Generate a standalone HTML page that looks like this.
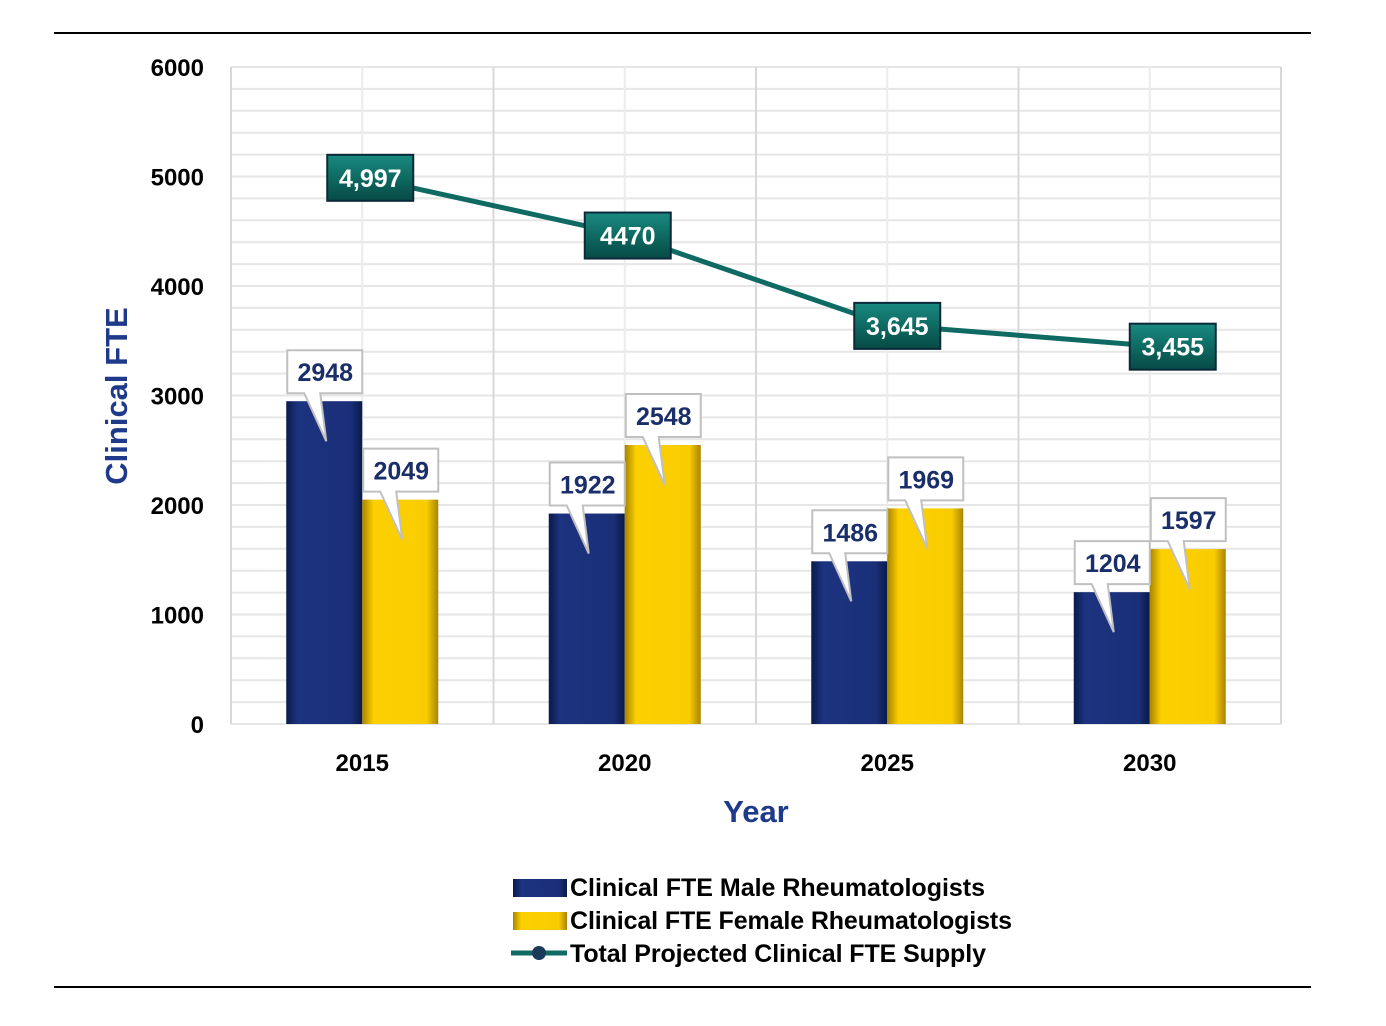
<!DOCTYPE html>
<html><head><meta charset="utf-8"><style>
html,body{margin:0;padding:0;background:#fff;}
svg{display:block;font-family:"Liberation Sans",sans-serif;font-weight:bold;}
</style></head><body>
<svg id="chart" width="1386" height="1026" viewBox="0 0 1386 1026">
<defs>
<linearGradient id="gm" x1="0" x2="1" y1="0" y2="0"><stop offset="0" stop-color="#0a1a4a"/><stop offset="0.15" stop-color="#1c3380"/><stop offset="0.85" stop-color="#1a2f78"/><stop offset="1" stop-color="#0a1a4a"/></linearGradient>
<linearGradient id="gf" x1="0" x2="1" y1="0" y2="0"><stop offset="0" stop-color="#a88400"/><stop offset="0.15" stop-color="#fcd000"/><stop offset="0.85" stop-color="#f8cc00"/><stop offset="1" stop-color="#a88400"/></linearGradient>
<linearGradient id="gl" x1="0" x2="0" y1="0" y2="1"><stop offset="0" stop-color="#1a8a80"/><stop offset="0.5" stop-color="#0e6a62"/><stop offset="1" stop-color="#074a45"/></linearGradient>
</defs>
<line x1="54" y1="33" x2="1311" y2="33" stroke="#000" stroke-width="2"/>
<line x1="54" y1="987" x2="1311" y2="987" stroke="#000" stroke-width="2"/>
<g id="grid"></g><g id="bars"></g><g id="line"></g><g id="labels"></g>
<text x="127" y="396" transform="rotate(-90 127 396)" text-anchor="middle" font-size="31" fill="#1f3a8a">Clinical FTE</text>
<text x="756" y="822" text-anchor="middle" font-size="31" fill="#1f3a8a">Year</text>
<g font-size="25" fill="#000">
<rect x="513" y="879" width="54" height="18" fill="url(#gm)"/>
<text x="570" y="896" textLength="415">Clinical FTE Male Rheumatologists</text>
<rect x="513" y="912" width="54" height="18" fill="url(#gf)"/>
<text x="570" y="929" textLength="442">Clinical FTE Female Rheumatologists</text>
<line x1="511" y1="953" x2="567" y2="953" stroke="#0e6a62" stroke-width="5"/>
<circle cx="539" cy="953" r="7" fill="#1a3a5a"/>
<text x="570" y="962" textLength="416">Total Projected Clinical FTE Supply</text>
</g>
</svg>
<script>
const categories=["2015","2020","2025","2030"];
const male=[2948,1922,1486,1204];
const female=[2049,2548,1969,1597];
const total=[4997,4470,3645,3455];
const totalLabels=["4,997","4470","3,645","3,455"];
const yTicks=[0,1000,2000,3000,4000,5000,6000];
const labelShift=[8,3,10,23];
const NS="http://www.w3.org/2000/svg";
const L=231,R=1281,Y0=724,Y6=67;
const y=v=>Y0-(v/6000)*(Y0-Y6);
const band=(R-L)/categories.length;
const xc=i=>L+band*(i+0.5);
function mk(tag,attrs,parent){const e=document.createElementNS(NS,tag);for(const k in attrs)e.setAttribute(k,attrs[k]);document.getElementById(parent).appendChild(e);return e;}
for(let v=0;v<=6000;v+=200){const l=mk('line',{x1:L,x2:R,y1:y(v),y2:y(v),stroke:'#e6e6e6','stroke-width':2},'grid');

}
for(let k=0;k<=categories.length*2;k++){const x=L+band/2*k;const l=mk('line',{x1:x,x2:x,y1:Y6,y2:Y0,stroke:k%2?'#ececec':'#d8d8d8','stroke-width':2},'grid');

}
yTicks.forEach(v=>{const t=mk('text',{x:204,y:y(v)+9,'text-anchor':'end','font-size':24,fill:'#000'},'labels');t.textContent=v;

});
const bw=76;
function callout(val,bx,top,idx,isMale){
  const bxL=bx+1,bxR=bx+bw,bb=top-8,bt=bb-43;
  const tipX=bx+bw/2+2,tipY=top+40;
  const p=mk('path',{d:`M${bxL} ${bt}H${bxR}V${bb}H${bx+bw/2-4}L${tipX} ${tipY}L${bx+bw/2-20} ${bb}H${bxL}Z`,fill:'#fff',stroke:'#c0c0c0','stroke-width':2},'labels');
  
  
  const t=mk('text',{x:bx+bw/2+1,y:bb-12,'text-anchor':'middle','font-size':25,fill:'#1a2f6a'},'labels');t.textContent=val;
  
  
}
categories.forEach((c,i)=>{
  const xm=xc(i)-bw,xf=xc(i);
  const m=mk('rect',{x:xm,y:y(male[i]),width:bw,height:Y0-y(male[i]),fill:'url(#gm)'},'bars');
  
  
  const f=mk('rect',{x:xf,y:y(female[i]),width:bw,height:Y0-y(female[i]),fill:'url(#gf)'},'bars');
  
  
  callout(male[i],xm,y(male[i]),i,true);
  callout(female[i],xf,y(female[i]),i,false);
  const t=mk('text',{x:xc(i),y:771,'text-anchor':'middle','font-size':24,fill:'#000'},'labels');t.textContent=c;
  
  
});
const pts=total.map((v,i)=>xc(i)+','+y(v)).join(' ');
const pl=mk('polyline',{points:pts,fill:'none',stroke:'#0e6a62','stroke-width':5},'line');


total.forEach((v,i)=>{
  const cx=xc(i)+labelShift[i],cy=y(v)+1;
  const r=mk('rect',{x:cx-43,y:cy-23,width:86,height:46,fill:'url(#gl)',stroke:'#0a2a3a','stroke-width':2},'labels');
  
  
  const t=mk('text',{x:cx,y:cy+9,'text-anchor':'middle','font-size':25,fill:'#fff'},'labels');t.textContent=totalLabels[i];
  
  
});
</script>
</body></html>
